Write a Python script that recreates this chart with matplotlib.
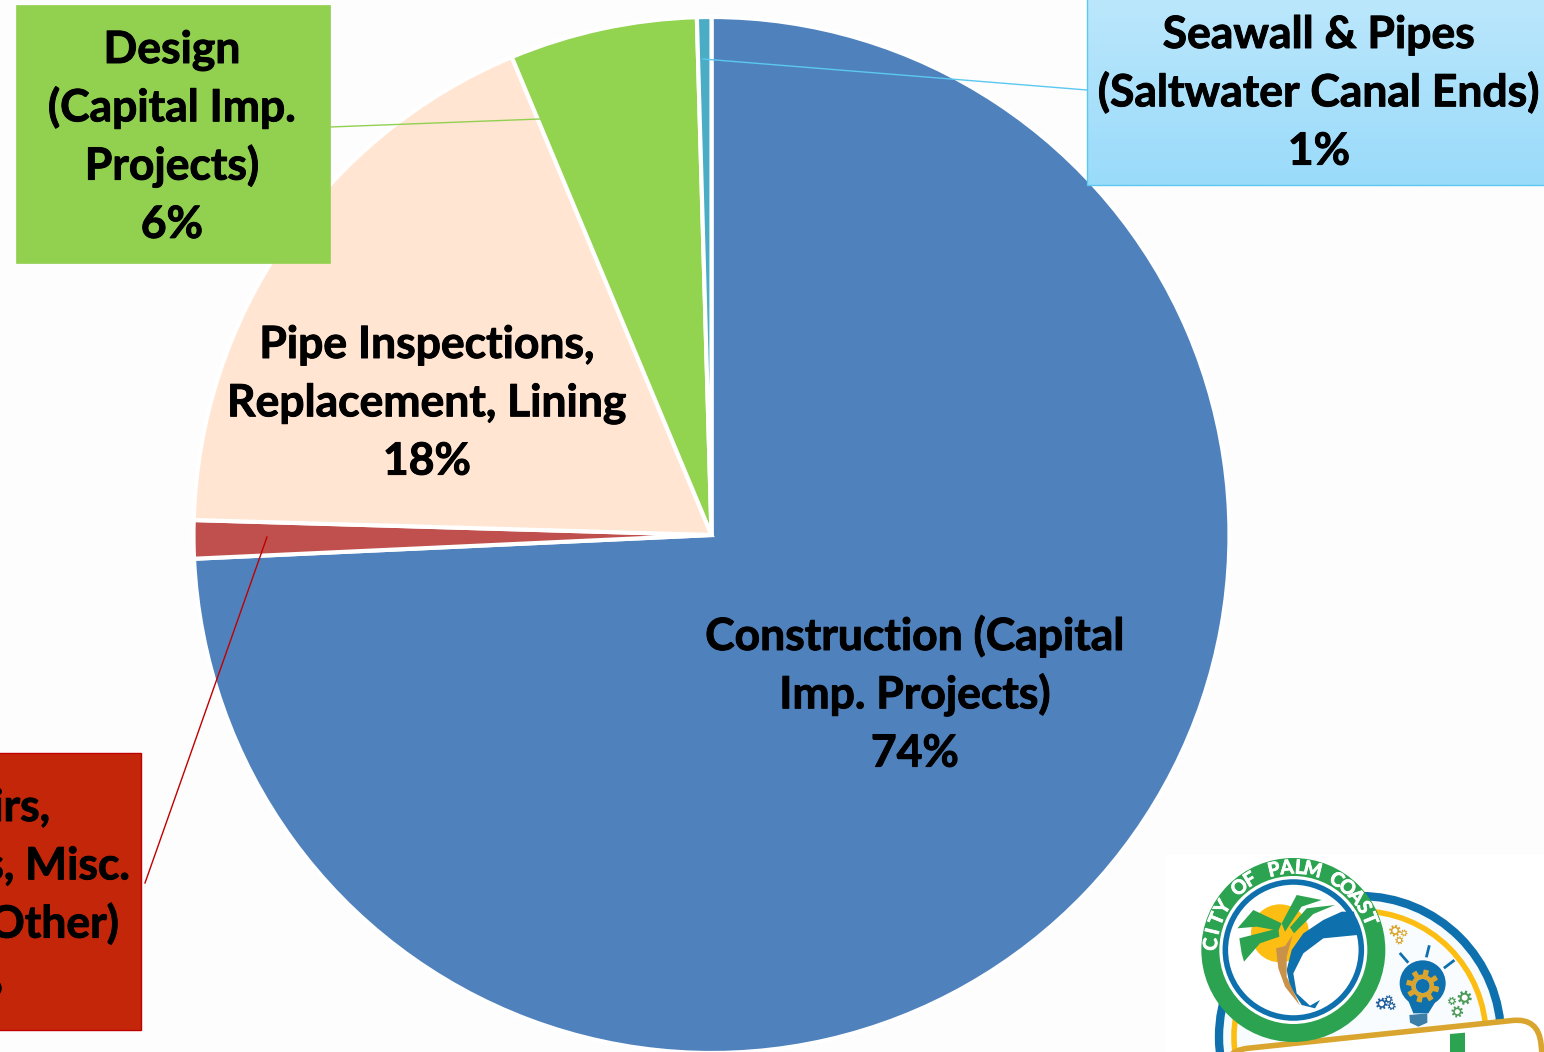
import numpy as np
import matplotlib
matplotlib.use("Agg")
import matplotlib.pyplot as plt
import matplotlib.patheffects as pe
from matplotlib.patches import Circle, Polygon, Rectangle, FancyBboxPatch

W = 1544
H = 1052

# pie slices, clockwise from the top (angles)
slices = ['Construction', 'Repairs', 'Pipe Inspections', 'Design', 'Seawall']
values = [74.27, 1.19, 18.24, 5.85, 0.45]
colors = ['#4F81BD', '#C0504D', '#FFE5D2', '#92D350', '#4BACC6']

construction_label = ['Construction (Capital', 'Imp. Projects)', '74%']
pipe_label = ['Pipe Inspections,', 'Replacement, Lining', '18%']
design_label = ['Design', '(Capital Imp.', 'Projects)', '6%']
seawall_label = ['Seawall & Pipes', '(Saltwater Canal Ends)', '1%']
# only these parts of the red box label are inside the picture
repairs_label = ['irs,', 's, Misc.', 'Other)', '%']
repairs_right = [50, 130, 119, 3]
logo_text = 'CITY OF PALM COAST'

FONT = 'Lato'
FS = 32
PITCH = 58.3

cx, cy, r = 711.5, 535, 518

fig = plt.figure(figsize=(W / 100, H / 100), dpi=100, facecolor='#FDFDFD')

# logo sits on a slightly whiter patch
back = fig.add_axes([0, 0, 1, 1])
back.set_xlim(0, W)
back.set_ylim(H, 0)
back.axis('off')
back.add_patch(Rectangle((1166, 855), 380, 200, fc='white', ec='none'))

ax = fig.add_axes([(cx - r) / W, (H - cy - r) / H, 2 * r / W, 2 * r / H])
ax.pie(values, colors=colors, startangle=90, counterclock=False, radius=1,
       wedgeprops={'edgecolor': 'white', 'linewidth': 3.0, 'clip_on': False})
ax.set_xlim(-1, 1)
ax.set_ylim(-1, 1)
ax.axis('off')

# everything else in pixel coordinates
ov = fig.add_axes([0, 0, 1, 1])
ov.set_xlim(0, W)
ov.set_ylim(H, 0)
ov.axis('off')
ov.patch.set_alpha(0)
heavy = [pe.withStroke(linewidth=0.7, foreground='black')]


def label(x, y, lines, ha='center'):
    for i, s in enumerate(lines):
        ov.text(x, y + i * PITCH, s, ha=ha, va='baseline', family=FONT, weight='bold',
                fontsize=FS, color='black', path_effects=heavy)


# boxes
ov.add_patch(Rectangle((16, 5), 314, 258, fc='#92D050', ec='#92D050', lw=0.5))
ov.add_patch(Rectangle((-5, 753), 146, 277, fc='#C4260A', ec='#C00000', lw=1))
grad = np.linspace(0, 1, 64).reshape(-1, 1)
cmap = matplotlib.colors.LinearSegmentedColormap.from_list('sky', ['#BBE7FC', '#9ADBFA'])
ov.imshow(grad, extent=(1087, 1550, 185, -2), cmap=cmap, aspect='auto', zorder=1)
ov.set_xlim(0, W)
ov.set_ylim(H, 0)
ov.plot([1087, 1087, 1550], [-2, 185, 185], color='#5CC8F0', lw=1, zorder=2)

# leader lines
ov.plot([330, 540], [127, 119], color='#92D050', lw=1)
ov.plot([1087, 703], [90, 59], color='#5CC8F0', lw=1)
ov.plot([145, 267], [883, 537], color='#C00000', lw=1)

label(915, 650, construction_label)
label(427, 358, pipe_label)
label(172, 63, design_label)
label(1319, 48, seawall_label)
for i, s in enumerate(repairs_label):
    ov.text(repairs_right[i], 821 + i * PITCH, s, ha='right', va='baseline', family=FONT, weight='bold',
            fontsize=FS, color='black', path_effects=heavy)


# logo, points are given in 3x zoomed offsets from its corner
def z(x, y):
    return 1150 + x / 3, 840 + y / 3


def zpoly(pts, color, zo=5):
    ov.add_patch(Polygon([z(*p) for p in pts], fc=color, ec='none', zorder=zo))


def gear(x, y, rad, color, zo=6):
    t = np.linspace(0, 2 * np.pi, 97)
    rr = rad * (1 + 0.18 * np.sign(np.sin(8 * t)))
    ov.add_patch(Polygon(np.c_[x + rr * np.cos(t), y + rr * np.sin(t)], fc=color, ec='none', zorder=zo))
    ov.add_patch(Circle((x, y), rad * 0.5, fc='white', ec='none', zorder=zo))


GREEN = '#2BA350'
BLUE = '#0F70AE'
GOLD = '#FDBE14'
TAN = '#D9A52E'

# big arc badge
ov.add_patch(Circle((1360, 1037), 141, fc='#F6FBFD', ec=BLUE, lw=6, zorder=3))
ov.add_patch(Circle((1360, 1037), 126, fc='#F8FCFE', ec=GOLD, lw=4, zorder=3))

# bulb and gears
ov.add_patch(Circle(z(818, 430), 23, fc=BLUE, ec='none', zorder=5))
zpoly([(770, 470), (866, 470), (835, 520), (790, 520)], BLUE)
zpoly([(778, 525), (832, 520), (832, 548), (805, 560), (780, 548)], '#3C7FA8')
gear(*z(818, 438), 14, TAN)
ov.add_patch(Circle(z(818, 438), 7, fc=BLUE, ec='none', zorder=7))
for a, b in [((752, 342), (772, 365)), ((837, 320), (830, 348)), ((910, 363), (885, 382))]:
    ov.plot(*zip(z(*a), z(*b)), color=BLUE, lw=2, zorder=5)
for gx, gy, gr, gc in [(735, 272, 5, TAN), (762, 279, 3, TAN), (748, 301, 3.5, TAN),
                       (716, 478, 3.5, '#1F5C99'), (695, 491, 5, '#1F5C99'), (725, 498, 3.5, '#1F5C99'),
                       (944, 473, 6, '#4C9A57'), (906, 483, 3.5, '#4C9A57'), (922, 515, 5, '#4C9A57')]:
    gear(*z(gx, gy), gr, gc)

# gold rounded frame at the bottom
ov.add_patch(FancyBboxPatch((1222, 1051), 318, 120, boxstyle='round,pad=0,rounding_size=26',
                            fc='white', ec=TAN, lw=4, zorder=8,
                            transform=matplotlib.transforms.Affine2D().rotate_deg_around(1222, 1051, -6) + ov.transData))
zpoly([(900, 582), (945, 578), (945, 640), (900, 640)], GREEN, 9)

# round seal
sx, sy = z(430, 330)
ov.add_patch(Circle((sx, sy), 92, fc=GREEN, ec='none', zorder=10))
ov.add_patch(Circle((sx, sy), 74, fc='white', ec='none', zorder=10))
ov.add_patch(Circle((sx, sy), 68, fc='white', ec=BLUE, lw=4, zorder=10))
ov.add_patch(Circle(z(390, 280), 29, fc=GOLD, ec='none', zorder=11))
zpoly([(262, 265), (310, 210), (395, 250), (385, 272), (320, 260)], GREEN, 12)
zpoly([(268, 295), (385, 265), (388, 290), (330, 310), (282, 365), (275, 340)], GREEN, 12)
zpoly([(395, 250), (440, 165), (515, 180), (455, 200), (425, 245), (405, 275)], GREEN, 12)
zpoly([(420, 262), (470, 205), (555, 195), (490, 222), (432, 280)], GREEN, 12)
zpoly([(460, 280), (520, 240), (575, 215), (612, 215), (622, 285), (520, 295), (460, 340), (430, 400),
       (440, 460), (480, 497), (510, 480), (495, 505), (455, 495), (420, 440), (410, 390), (425, 330)], BLUE, 12)
zpoly([(378, 325), (405, 318), (428, 285), (410, 350), (410, 410), (450, 497), (405, 440), (385, 385)], '#C9924A', 12)

# ring lettering, one glyph at a time
angles = np.linspace(176, 22, len(logo_text))
for ch, a in zip(logo_text, angles):
    t = np.radians(a)
    ov.text(sx + 82 * np.cos(t), sy - 82 * np.sin(t), ch, rotation=a - 90, ha='center', va='center',
            family=FONT, weight='bold', fontsize=14, color='white', zorder=13, rotation_mode='anchor',
            path_effects=[pe.withStroke(linewidth=0.6, foreground='white')])

fig.savefig('out.png', dpi=100, facecolor=fig.get_facecolor())
